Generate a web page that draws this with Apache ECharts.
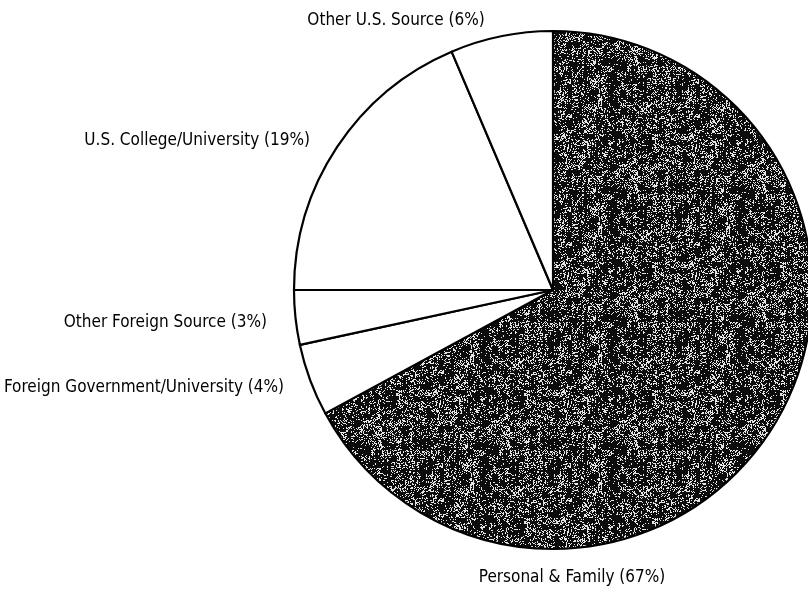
<!DOCTYPE html>
<html>
<head>
<meta charset="utf-8">
<script src="https://cdn.jsdelivr.net/npm/echarts@6/dist/echarts.min.js"></script>
<style>
html,body{margin:0;padding:0;background:#fff;}
#chart{width:808px;height:589px;}
</style>
</head>
<body>
<div id="chart"></div>
<script>
// Categories in clockwise order starting at 12 o'clock
const categories = ['Personal & Family', 'Foreign Government/University', 'Other Foreign Source', 'U.S. College/University', 'Other U.S. Source'];
// Slice sizes as drawn (percent of the circle)
const shares = [67.1, 4.5, 3.4, 18.6, 6.4];
// Percentages printed in the labels
const labelPercents = [67, 4, 3, 19, 6];

// Grainy dark texture (deterministic hash speckle)
function makeTexture() {
  const s = 128;
  const c = document.createElement('canvas');
  c.width = s; c.height = s;
  const ctx = c.getContext('2d');
  const img = ctx.createImageData(s, s);
  function hash(x, y) {
    const v = Math.sin(x * 12.9898 + y * 78.233) * 43758.5453;
    return v - Math.floor(v);
  }
  for (let y = 0; y < s; y++) {
    for (let x = 0; x < s; x++) {
      const v = 0.62 * hash(x, y) + 0.26 * hash(Math.floor(x / 6) + 0.37, Math.floor(y / 6) + 11.1) + 0.12 * hash(x + 0.5, 3.7);
      const dark = v < 0.66;
      const g = dark ? 12 : 230;
      const i = (y * s + x) * 4;
      img.data[i] = g; img.data[i + 1] = g; img.data[i + 2] = g; img.data[i + 3] = 255;
    }
  }
  ctx.putImageData(img, 0, 0);
  return c;
}

const labelPos = [
  { x: 572, y: 578, align: 'center' },
  { x: 284, y: 388, align: 'right' },
  { x: 267, y: 323, align: 'right' },
  { x: 310, y: 141, align: 'right' },
  { x: 396, y: 21, align: 'center' }
];

const texture = makeTexture();
const data = categories.map((name, i) => ({
  name: name,
  value: shares[i],
  itemStyle: { color: i === 0 ? { image: texture, repeat: 'repeat' } : '#ffffff' }
}));

const chart = echarts.init(document.getElementById('chart'), null, { renderer: 'canvas' });
chart.setOption({
  animation: false,
  backgroundColor: '#ffffff',
  series: [{
    type: 'pie',
    center: [553, 290],
    radius: 259,
    startAngle: 90,
    clockwise: true,
    avoidLabelOverlap: false,
    data: data,
    itemStyle: { borderColor: '#000000', borderWidth: 2.2 },
    label: {
      show: true,
      position: 'outside',
      color: '#000000',
      fontFamily: 'DejaVu Sans Condensed',
      fontSize: 17,
      formatter: function (p) { return p.name + ' (' + labelPercents[p.dataIndex] + '%)'; }
    },
    labelLine: { show: false },
    labelLayout: function (p) {
      const lp = labelPos[p.dataIndex];
      return { x: lp.x, y: lp.y, align: lp.align, verticalAlign: 'middle', hideOverlap: false };
    },
    emphasis: { disabled: true }
  }]
});
</script>
</body>
</html>
